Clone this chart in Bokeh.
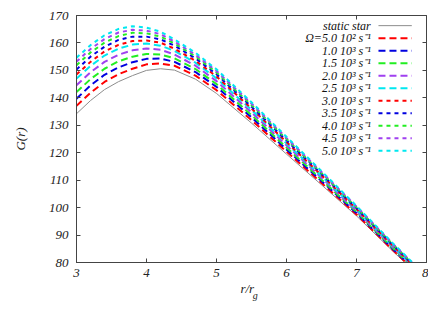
from bokeh.plotting import figure
from bokeh.models import Range1d, FixedTicker, LinearAxis
from bokeh.core.properties import value
from bokeh.embed import file_html
from bokeh.resources import INLINE

# radius r / r_g
r = [3.0, 3.2, 3.4, 3.6, 3.8, 4.0, 4.2, 4.4, 4.7, 5.0, 5.5, 6.0, 6.5, 7.0, 7.5, 8.0]

static_star = [134.2, 139.0, 143.0, 145.9, 148.1, 150.0, 150.6, 150.1, 146.8, 141.6, 130.8, 119.5, 108.3, 97.0, 84.6, 72.5]
om_0_5 = [137.1, 141.8, 145.8, 148.6, 150.6, 152.2, 152.5, 151.7, 148.1, 142.8, 131.9, 120.4, 109.0, 97.5, 85.0, 72.9]
om_1_0 = [139.7, 144.5, 148.4, 151.1, 153.0, 154.2, 154.3, 153.1, 149.4, 144.0, 132.9, 121.2, 109.7, 98.0, 85.4, 73.2]
om_1_5 = [142.1, 146.8, 150.6, 153.3, 155.0, 156.0, 155.8, 154.4, 150.5, 145.0, 133.7, 121.9, 110.2, 98.4, 85.7, 73.5]
om_2_0 = [144.6, 149.3, 153.1, 155.7, 157.3, 158.0, 157.5, 155.8, 151.7, 146.1, 134.7, 122.7, 110.9, 98.8, 86.1, 73.8]
om_2_5 = [147.0, 151.6, 155.4, 157.9, 159.4, 159.8, 159.0, 157.1, 152.8, 147.1, 135.6, 123.4, 111.4, 99.3, 86.4, 74.1]
om_3_0 = [148.5, 153.1, 156.9, 159.3, 160.7, 160.9, 160.1, 157.9, 153.5, 147.8, 136.1, 123.9, 111.8, 99.5, 86.6, 74.3]
om_3_5 = [150.3, 155.0, 158.6, 161.1, 162.3, 162.3, 161.3, 159.0, 154.4, 148.6, 136.8, 124.5, 112.3, 99.8, 86.9, 74.5]
om_4_0 = [151.9, 156.5, 160.1, 162.5, 163.7, 163.5, 162.3, 159.8, 155.1, 149.2, 137.4, 125.0, 112.6, 100.1, 87.1, 74.7]
om_4_5 = [153.2, 157.8, 161.4, 163.8, 164.8, 164.5, 163.2, 160.5, 155.7, 149.8, 137.9, 125.4, 113.0, 100.4, 87.3, 74.8]
om_5_0 = [154.6, 159.2, 162.8, 165.1, 166.1, 165.6, 164.1, 161.3, 156.4, 150.4, 138.4, 125.8, 113.3, 100.6, 87.5, 75.0]

labels = ["static star", "Ω=5.0 10² s⁻¹", "1.0 10³ s⁻¹", "1.5 10³ s⁻¹", "2.0 10³ s⁻¹",
          "2.5 10³ s⁻¹", "3.0 10³ s⁻¹", "3.5 10³ s⁻¹", "4.0 10³ s⁻¹", "4.5 10³ s⁻¹", "5.0 10³ s⁻¹"]
series = [static_star, om_0_5, om_1_0, om_1_5, om_2_0, om_2_5, om_3_0, om_3_5, om_4_0, om_4_5, om_5_0]
colors = ["#8c8c8c", "#ff0000", "#0000e0", "#22ee22", "#a040f0", "#00e8f0",
          "#ff0000", "#0000e0", "#22ee22", "#a040f0", "#00e8f0"]
dashes = ["solid", "7 4", "7 4", "7 4", "7 4", "7 4", "4 4", "4 4", "4 4", "4 4", "4 4"]
widths = [1, 2, 2, 2, 2, 2, 2, 2, 2, 2, 2]

x_ticks = [3, 4, 5, 6, 7, 8]
y_ticks = [80, 90, 100, 110, 120, 130, 140, 150, 160, 170]

FONT = "Liberation Serif"

p = figure(width=428, height=303, output_backend="svg", toolbar_location=None,
           x_range=Range1d(3, 8), y_range=Range1d(80, 170),
           min_border_left=76, min_border_right=2, min_border_top=15, min_border_bottom=40)
p.grid.visible = False
p.outline_line_color = "#444444"
p.outline_line_width = 1
p.background_fill_color = "white"
p.border_fill_color = "white"

for ax in (p.xaxis[0], p.yaxis[0]):
    ax.axis_line_color = "#444444"
    ax.major_tick_in = 4
    ax.major_tick_out = 0
    ax.minor_tick_line_color = None
    ax.major_tick_line_color = "#444444"
    ax.major_label_text_font = FONT
    ax.major_label_text_font_style = "italic"
    ax.major_label_text_font_size = "13px"
    ax.major_label_text_color = "#222222"
p.xaxis[0].major_label_standoff = 6
p.yaxis[0].major_label_standoff = 8
p.xaxis[0].ticker = FixedTicker(ticks=x_ticks)
p.yaxis[0].ticker = FixedTicker(ticks=y_ticks)
p.yaxis[0].axis_label = "G(r)"
p.yaxis[0].axis_label_text_font = FONT
p.yaxis[0].axis_label_text_font_style = "italic"
p.yaxis[0].axis_label_text_font_size = "13px"
p.yaxis[0].axis_label_text_color = "#222222"
p.yaxis[0].axis_label_standoff = 18

# mirrored ticks (gnuplot style), labels not drawn
for loc, ticks in (("right", y_ticks), ("above", x_ticks)):
    ax = LinearAxis(ticker=FixedTicker(ticks=ticks), axis_line_color=None,
                    major_tick_in=4, major_tick_out=0, minor_tick_line_color=None,
                    major_tick_line_color="#444444", major_label_text_font_size="1px",
                    major_label_text_color=None, major_label_standoff=0)
    p.add_layout(ax, loc)

# x axis title r/r_g, written as two label-only axes so "g" can be a subscript
xt_main = LinearAxis(ticker=FixedTicker(ticks=[5.44]), major_label_overrides={5.44: "r/r"},
                     axis_line_color=None, major_tick_line_color=None, minor_tick_line_color=None,
                     major_tick_in=0, major_tick_out=0, major_label_standoff=1,
                     major_label_text_font=FONT, major_label_text_font_style="italic",
                     major_label_text_font_size="13px", major_label_text_color="#222222")
p.add_layout(xt_main, "below")
xt_sub = LinearAxis(ticker=FixedTicker(ticks=[5.555]), major_label_overrides={5.555: "g"},
                    axis_line_color=None, major_tick_line_color=None, minor_tick_line_color=None,
                    major_tick_in=0, major_tick_out=0, major_label_standoff=-9,
                    major_label_text_font=FONT, major_label_text_font_style="italic",
                    major_label_text_font_size="10px", major_label_text_color="#222222")
p.add_layout(xt_sub, "below")

# curves
for ys, c, d, w in zip(series, colors, dashes, widths):
    p.line(r, ys, line_color=c, line_dash=d, line_width=w)

# legend (gnuplot style: text right-aligned, sample to the right)
leg_text_x = 7.204
leg_x0, leg_x1 = 7.314, 7.79
leg_y0, leg_dy = 166.3, 4.556
leg_y = [leg_y0 - i * leg_dy for i in range(len(labels))]
p.text(x=[leg_text_x] * len(labels), y=leg_y, text=labels,
       text_font=value(FONT), text_font_style="italic", text_font_size="12px",
       text_align="right", text_baseline="middle", text_color="#111111")
for yy, c, d, w in zip(leg_y, colors, dashes, widths):
    p.line([leg_x0, leg_x1], [yy, yy], line_color=c, line_dash=d, line_width=w)

open("out.html", "w").write(file_html(p, INLINE))
